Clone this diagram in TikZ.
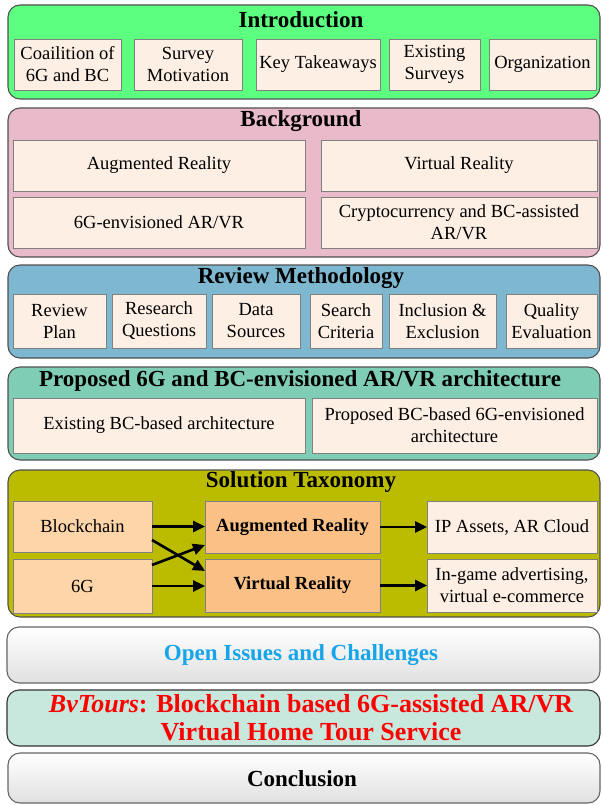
\documentclass[tikz,border=0pt]{standalone}
\usepackage{fontspec}
\setmainfont{Liberation Serif}
\usetikzlibrary{calc,arrows.meta}
\definecolor{introC}{HTML}{5CFF80}
\definecolor{backC}{HTML}{E9BAC9}
\definecolor{reviewC}{HTML}{7DB7D0}
\definecolor{propC}{HTML}{7FCDB5}
\definecolor{solC}{HTML}{BBBB00}
\definecolor{bvC}{HTML}{C8E7DD}
\definecolor{cream}{HTML}{FDEFE4}
\definecolor{lorange}{HTML}{FDD5A8}
\definecolor{morange}{HTML}{FBC085}
\definecolor{boxedge}{HTML}{505050}
\definecolor{inedge}{HTML}{808080}
\definecolor{openblue}{HTML}{16A5E8}
\definecolor{bvred}{HTML}{FF0000}
\tikzset{
  outerbox/.style={draw=boxedge, line width=1.1pt, rounded corners=12pt, inner sep=0pt, outer sep=0pt, anchor=north west},
  innerbox/.style={draw=inedge, line width=0.9pt, fill=cream, inner sep=0pt, outer sep=0pt, anchor=north west, align=center, font=\fontsize{18.5}{22}\selectfont},
  ttl/.style={font=\fontsize{23}{27.6}\selectfont\bfseries, align=center, inner sep=0pt},
  arr/.style={line width=2.6pt, -{Triangle[length=12pt,width=11pt]}},
  greyshade/.style={top color=white, bottom color=black!12}
}
\newcommand\bx[7]{\node[#6, minimum width={(#4-#2)*1pt}, minimum height={(#5-#3)*1pt}] (#1) at (#2,#3) {#7};}
\begin{document}
\begin{tikzpicture}[x=1pt,y=-1pt]
\useasboundingbox (0,0) rectangle (602,805);
% ---------- Introduction
\bx{intro}{8}{5}{600}{99}{outerbox,fill=introC}{}
\node[ttl] (introT) at (301,20) {Introduction};
\bx{i1}{14}{39}{121}{90}{innerbox}{Coailition of\\6G and BC}
\bx{i2}{134}{39}{242}{90}{innerbox}{Survey\\Motivation}
\bx{i3}{256}{39}{380}{90}{innerbox}{Key Takeaways}
\bx{i4}{389}{39}{480}{90}{innerbox}{Existing\\Surveys}
\bx{i5}{489}{39}{596}{90}{innerbox}{Organization}
% ---------- Background
\bx{back}{8}{108}{600}{257}{outerbox,fill=backC}{}
\node[ttl] (backT) at (301,121) {Background};
\bx{b1}{13}{140}{305}{191}{innerbox}{Augmented Reality}
\bx{b2}{321}{140}{597}{191}{innerbox}{Virtual Reality}
\bx{b3}{13}{197}{305}{248}{innerbox}{6G-envisioned AR/VR}
\bx{b4}{321}{197}{597}{248}{innerbox}{Cryptocurrency and BC-assisted\\AR/VR}
% ---------- Review Methodology
\bx{rev}{8}{265}{600}{358}{outerbox,fill=reviewC}{}
\node[ttl] (revT) at (301,278) {Review Methodology};
\bx{r1}{13}{294}{106}{348}{innerbox}{Review\\Plan}
\bx{r2}{112}{294}{206}{348}{innerbox}{Research\\Questions}
\bx{r3}{212}{294}{300}{348}{innerbox}{Data\\Sources}
\bx{r4}{310}{294}{382}{348}{innerbox}{Search\\Criteria}
\bx{r5}{389}{294}{496}{348}{innerbox}{Inclusion \&\\Exclusion}
\bx{r6}{506}{294}{597}{348}{innerbox}{Quality\\Evaluation}
% ---------- Proposed architecture
\bx{prop}{8}{367}{600}{460}{outerbox,fill=propC}{}
\node[ttl] (propT) at (300,381) {Proposed 6G and BC-envisioned AR/VR architecture};
\bx{p1}{13}{398}{305}{453}{innerbox}{Existing BC-based architecture}
\bx{p2}{312}{398}{597}{453}{innerbox}{Proposed BC-based 6G-envisioned\\architecture}
% ---------- Solution Taxonomy
\bx{sol}{8}{470}{600}{617}{outerbox,fill=solC}{}
\node[ttl] (solT) at (301,482) {Solution Taxonomy};
\bx{bc}{13}{501}{152}{552}{innerbox,fill=lorange}{Blockchain}
\bx{sg}{13}{559}{152}{613}{innerbox,fill=lorange}{6G}
\bx{ar}{205}{501}{380}{553}{innerbox,fill=morange,font=\fontsize{18.5}{22}\selectfont\bfseries}{Augmented Reality}
\bx{vr}{205}{559}{380}{612}{innerbox,fill=morange,font=\fontsize{18.5}{22}\selectfont\bfseries}{Virtual Reality}
\bx{ip}{427}{501}{597}{553}{innerbox}{IP Assets, AR Cloud}
\bx{ig}{427}{559}{597}{612}{innerbox}{In-game advertising,\\virtual e-commerce}
\draw[arr] (bc.east) -- (bc.east -| ar.west);
\draw[arr] (sg.east) -- (sg.east -| vr.west);
\draw[arr] ($(bc.south east)+(0,-12)$) -- ($(vr.north west)+(0,12)$);
\draw[arr] ($(sg.north east)+(0,6)$) -- ($(ar.south west)+(0,-8)$);
\draw[arr] (ar.east) -- (ar.east -| ip.west);
\draw[arr] (vr.east) -- (vr.east -| ig.west);
% ---------- Open issues
\bx{open}{7}{627}{600}{683}{outerbox,greyshade,draw=black!60}{}
\node[ttl, text=openblue] (openT) at (301,655) {Open Issues and Challenges};
% ---------- BvTours
\bx{bv}{7}{690}{600}{746}{outerbox,fill=bvC,draw=black!80}{}
\node[ttl, font=\fontsize{26}{28}\selectfont\bfseries, text=bvred] (bvT) at (311,718) {\textit{BvTours}: Blockchain based 6G-assisted AR/VR\\Virtual Home Tour Service};
% ---------- Conclusion
\bx{conc}{8}{753}{600}{803}{outerbox,greyshade,draw=black!60}{}
\node[ttl] (concT) at (302,779) {Conclusion};
\end{tikzpicture}
\end{document}
